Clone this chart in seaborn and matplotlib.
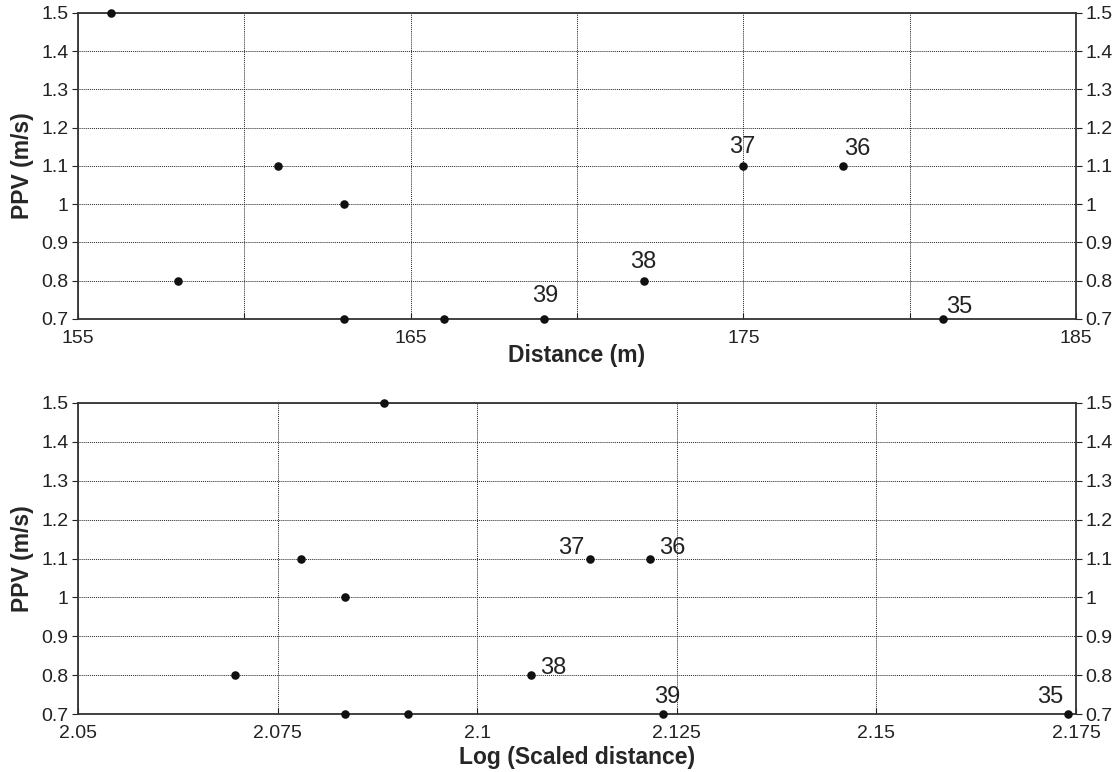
import matplotlib
matplotlib.use("Agg")
import matplotlib.pyplot as plt
import seaborn as sns
import pandas as pd
import numpy as np
from matplotlib.ticker import FuncFormatter

# data
ppv = [1.5, 0.8, 1.1, 1.0, 0.7, 0.7, 0.7, 0.8, 1.1, 1.1, 0.7]
distance = [156, 158, 161, 163, 163, 166, 169, 172, 175, 178, 181]
log_sd = [2.0883, 2.0697, 2.0779, 2.0834, 2.0834, 2.0913, 2.1233, 2.1067, 2.1141, 2.1216, 2.174]
blast_id = ["", "", "", "", "", "", "39", "38", "37", "36", "35"]

y_ticks = [0.7, 0.8, 0.9, 1.0, 1.1, 1.2, 1.3, 1.4, 1.5]
top_xticks = [155, 160, 165, 170, 175, 180, 185]
top_xlabels = ["155", "", "165", "", "175", "", "185"]
bot_xticks = [2.05, 2.075, 2.1, 2.125, 2.15, 2.175]
bot_xlabels = ["2.05", "2.075", "2.1", "2.125", "2.15", "2.175"]

df = pd.DataFrame({"dist": distance, "logsd": log_sd, "ppv": ppv, "id": blast_id})

sns.set_style("white")
plt.rcParams["font.family"] = ["Liberation Sans", "DejaVu Sans"]

fig = plt.figure(figsize=(11.15, 7.72), dpi=100)
ax1 = fig.add_axes([0.070, 0.5868, 0.895, 0.3964])
ax2 = fig.add_axes([0.070, 0.0751, 0.895, 0.4029])

# label offsets (points, baseline) for each annotated shot
off_top = {"39": (1, 12, "center"), "38": (0, 9.5, "center"), "37": (-1, 9.5, "center"),
           "36": (0.5, 8, "left"), "35": (2, 4.5, "left")}
off_bot = {"39": (3, 8, "center"), "38": (6.5, 0.7, "left"), "37": (-3.6, 3, "right"),
           "36": (6.5, 3, "left"), "35": (-3.6, 8, "right")}

def style(ax, xcol, xticks, xlabels, xlim, xlabel, offs, lpad):
    sns.scatterplot(data=df, x=xcol, y="ppv", ax=ax, color="#111111", s=38,
                    edgecolor="#111111", linewidth=0, clip_on=False, zorder=5)
    for _, r in df.iterrows():
        if r["id"]:
            dx, dy, ha = offs[r["id"]]
            ax.annotate(r["id"], (r[xcol], r["ppv"]), xytext=(dx, dy),
                        textcoords="offset points", ha=ha, va="baseline",
                        fontsize=17, color="#222222")
    ax.set_xlim(*xlim)
    ax.set_ylim(0.7, 1.5)
    ax.set_xticks(xticks)
    ax.set_xticklabels(xlabels)
    ax.set_yticks(y_ticks)
    ax.yaxis.set_major_formatter(FuncFormatter(lambda v, p: "%g" % round(v, 2)))
    ax.grid(True, color="#222222", linestyle=(0, (1, 1)), linewidth=0.7)
    ax.set_axisbelow(True)
    ax.tick_params(axis="y", left=True, right=True, labelleft=True, labelright=True,
                   direction="out", length=4, width=0.8, labelsize=14,
                   colors="#222222", pad=3)
    ax.tick_params(axis="x", bottom=True, direction="in", length=4, width=0.8,
                   labelsize=14, colors="#222222", pad=8)
    for s in ["left", "bottom", "right", "top"]:
        ax.spines[s].set_visible(True)
        ax.spines[s].set_linewidth(1.3)
        ax.spines[s].set_color("#333333")
    ax.set_xlabel(xlabel, fontsize=16.5, fontweight="bold", labelpad=lpad)
    ax.set_ylabel("PPV (m/s)", fontsize=16.5, fontweight="bold", labelpad=5)

style(ax1, "dist", top_xticks, top_xlabels, (155, 185), "Distance (m)", off_top, -2)
style(ax2, "logsd", bot_xticks, bot_xlabels, (2.05, 2.175), "Log (Scaled distance)", off_bot, 3)

fig.savefig("out.png", dpi=100)
